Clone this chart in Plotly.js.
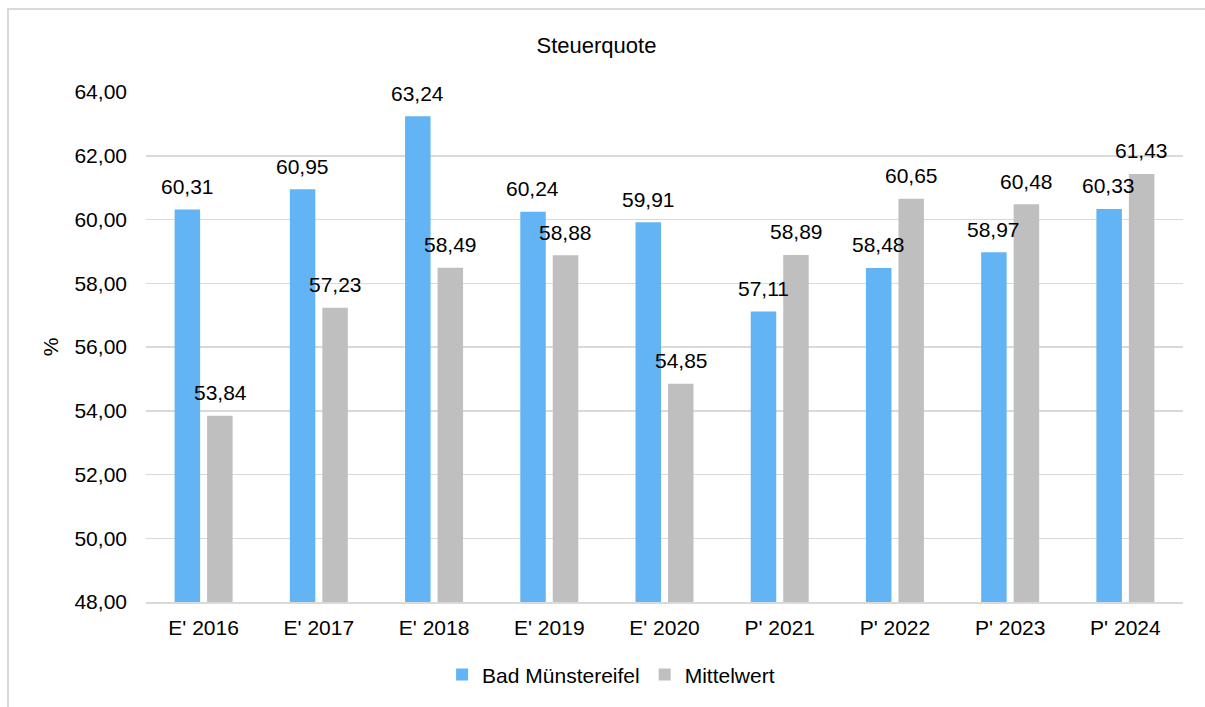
<!DOCTYPE html>
<html><head><meta charset="utf-8">
<script src="https://cdn.plot.ly/plotly-3.0.1.min.js"></script>
<style>
html,body{margin:0;padding:0;background:#fff;}
#chart{width:1205px;height:707px;}
#frame{position:absolute;left:7px;top:8px;width:1300px;height:800px;border-left:2px solid #d9d9d9;border-top:2px solid #d9d9d9;pointer-events:none;}
</style></head>
<body>
<div id="chart"></div>
<div id="frame"></div>
<script>
const categories = ["E' 2016","E' 2017","E' 2018","E' 2019","E' 2020","P' 2021","P' 2022","P' 2023","P' 2024"];
const badMuenstereifel = [60.31, 60.95, 63.24, 60.24, 59.91, 57.11, 58.48, 58.97, 60.33];
const mittelwert = [53.84, 57.23, 58.49, 58.88, 54.85, 58.89, 60.65, 60.48, 61.43];
const seriesNames = ["Bad Münstereifel", "Mittelwert"];
const yTicks = [48, 50, 52, 54, 56, 58, 60, 62, 64];

const fmt = v => v.toFixed(2).replace('.', ',');
const FONT = "'Liberation Sans', Arial, sans-serif";

const traces = [
  {type:'bar', name:seriesNames[0], x:categories, y:badMuenstereifel, marker:{color:'#63b4f5'}, hoverinfo:'none'},
  {type:'bar', name:seriesNames[1], x:categories, y:mittelwert, marker:{color:'#bfbfbf'}, hoverinfo:'none'}
];

const annotations = [];
[[badMuenstereifel,-16.5],[mittelwert,16.5]].forEach(([arr,shift]) => {
  arr.forEach((v,i) => annotations.push({
    x:categories[i], y:v, xref:'x', yref:'y', text:fmt(v), showarrow:false,
    xshift:shift, yshift:23, yanchor:'middle', xanchor:'center',
    font:{family:FONT, size:21, color:'#000'}
  }));
});

const layout = {
  width:1205, height:707,
  margin:{l:146, r:22, t:92, b:105},
  paper_bgcolor:'#fff', plot_bgcolor:'#fff',
  font:{family:FONT, size:21, color:'#000'},
  separators:',.',
  title:{text:'Steuerquote', x:0.495, xanchor:'center', y:0.936, yanchor:'middle', font:{family:FONT, size:22, color:'#000'}},
  barmode:'group', bargap:0.436, bargroupgap:0.215,
  xaxis:{type:'category', showgrid:false, showline:true, linecolor:'#d9d9d9', linewidth:1.5, ticks:'', tickfont:{size:21}, ticklabelstandoff:6},
  yaxis:{range:[48,64], tickvals:yTicks, ticktext:yTicks.map(fmt), showgrid:true, gridcolor:'#d9d9d9', gridwidth:1.5, zeroline:false, showline:false, ticks:'', tickfont:{size:21}, ticklabelstandoff:18,
    title:{text:'%', standoff:10, font:{size:21}}},
  legend:{orientation:'h', x:0.4485, xanchor:'center', y:-0.143, yanchor:'middle', font:{size:21}, itemwidth:20, tracegroupgap:0},
  showlegend:true,
  annotations:annotations
};

Plotly.newPlot('chart', traces, layout, {displayModeBar:false, staticPlot:true});
</script>
</body></html>
